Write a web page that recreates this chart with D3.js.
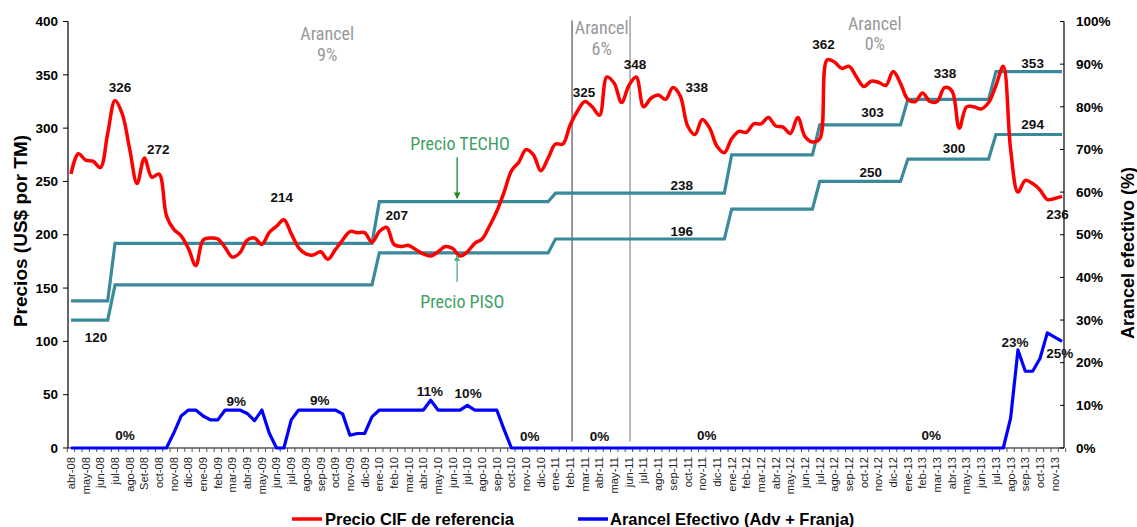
<!DOCTYPE html>
<html><head><meta charset="utf-8">
<script src="https://cdn.jsdelivr.net/npm/d3@7"></script>
<style>body{margin:0;background:#fff}svg{display:block}</style>
</head><body><svg id="c" width="1137" height="527"></svg>
<script>
const monthLabels = ["abr-08","may-08","jun-08","jul-08","ago-08","Set-08","oct-08","nov-08","dic-08",
"ene-09","feb-09","mar-09","abr-09","may-09","jun-09","jul-09","ago-09","sep-09","oct-09","nov-09","dic-09",
"ene-10","feb-10","mar-10","abr-10","may-10","jun-10","jul-10","ago-10","sep-10","oct-10","nov-10","dic-10",
"ene-11","feb-11","mar-11","abr-11","may-11","jun-11","jul-11","ago-11","sep-11","oct-11","nov-11","dic-11",
"ene-12","feb-12","mar-12","abr-12","may-12","jun-12","jul-12","ago-12","sep-12","oct-12","nov-12","dic-12",
"ene-13","feb-13","mar-13","abr-13","may-13","jun-13","jul-13","ago-13","sep-13","oct-13","nov-13"];

// semi-monthly values (2 per month)
const precioCIF = [257,276,270,269,263,295,326,313,280,248,272,254,257,218,205,199,187,171,195,197,
196,188,179,183,195,197,191,202,208,214,201,188,182,181,184,177,186,195,203,202,
202,193,203,207,191,189,190,186,182,180,184,189,187,180,184,192,196,208,222,240,
260,268,280,275,260,272,285,285,303,316,325,320,312,348,342,324,340,348,320,328,
331,327,338,330,302,294,308,300,283,277,290,297,296,304,304,310,302,301,295,310,
292,287,290,364,362,356,358,348,339,344,343,340,353,342,327,325,333,325,325,338,
335,300,320,320,318,324,340,358,280,240,251,248,242,233,234,236];

const arancelEfectivo = [0,0,0,0,0,0,0,0,0,0,0,0,0,0,3.5,7.5,8.9,8.9,7.5,6.6,
6.6,8.9,8.9,8.9,8.1,6.4,8.9,3.5,0,0,6.6,8.9,8.9,8.9,8.9,8.9,8.9,8.0,3.0,3.4,
3.4,7.3,8.9,8.9,8.9,8.9,8.9,8.9,8.9,11.2,8.9,8.9,8.9,8.9,10,8.9,8.9,8.9,8.9,4.3,
0,0,0,0,0,0,0,0,0,0,0,0,0,0,0,0,0,0,0,0,
0,0,0,0,0,0,0,0,0,0,0,0,0,0,0,0,0,0,0,0,
0,0,0,0,0,0,0,0,0,0,0,0,0,0,0,0,0,0,0,0,
0,0,0,0,0,0,0,0,7,23,18,18,21,27,26,25];

const stepStart = [0,6,42,66,90,102,114,126];
const precioPisoLevels = [120,153,183,196,224,250,271,294];
const precioTechoLevels = [138,192,231,239,275,303,327,353];

const leftTicks = [0,50,100,150,200,250,300,350,400];
const rightTicks = [0,10,20,30,40,50,60,70,80,90,100];

const cifLabels = [
 {t:"326",i:6.68,v:338.5},{t:"272",i:11.89,v:279.8},{t:"214",i:28.7,v:235.4},{t:"207",i:44.37,v:218.3},
 {t:"325",i:69.9,v:333.8},{t:"348",i:76.84,v:359.7},{t:"338",i:85.25,v:337.9},{t:"362",i:102.5,v:379.1},
 {t:"338",i:119.07,v:351},{t:"236",i:134.4,v:219.2}];
const bandLabels = [
 {t:"120",i:3.41,v:104.3},{t:"238",i:83.2,v:246.4},{t:"196",i:83.2,v:203.6},{t:"303",i:109.2,v:314.5},
 {t:"250",i:108.95,v:258.3},{t:"300",i:120.3,v:280.7},{t:"353",i:131.0,v:361},{t:"294",i:131.0,v:303.2}];
const arancelLabels = [
 {t:"0%",i:7.36,p:3.04},{t:"9%",i:22.5,p:10.84},{t:"9%",i:33.9,p:11.24},{t:"11%",i:48.9,p:13.19},
 {t:"10%",i:54.1,p:12.81},{t:"0%",i:62.5,p:2.65},{t:"0%",i:72.0,p:2.65},{t:"0%",i:86.6,p:3.04},
 {t:"0%",i:117.2,p:3.04},{t:"23%",i:128.6,p:24.9},{t:"25%",i:134.7,p:22.2}];
const tariffNotes = [
 {a:"Arancel",b:"9%",i:34.9,v:388.5},{a:"Arancel",b:"6%",i:72.3,v:394.1},{a:"Arancel",b:"0%",i:109.5,v:398.4}];
const separators = [{i:68.26,top:401},{i:76.16,top:405}];

// build step series from levels
function steps(levels){
  const out=[];
  for(let k=0;k<precioCIF.length;k++){
    let idx=0; stepStart.forEach((s,j)=>{ if(k>=s) idx=j; });
    out.push(levels[idx]);
  }
  return out;
}
const precioPiso = steps(precioPisoLevels);
const precioTecho = steps(precioTechoLevels);

const svg = d3.select("#c");
const L=68, R=1064, T=21.5, B=448;
const x = d3.scaleLinear().domain([0,135]).range([71,1062]);
const y = d3.scaleLinear().domain([0,400]).range([B,T]);
const y2 = d3.scaleLinear().domain([0,100]).range([B,T]);
const font = "'Liberation Sans', Arial, sans-serif";
const narrow = "'Liberation Sans Narrow','Arial Narrow','Roboto Condensed',sans-serif";

// axes lines
svg.append("line").attr("x1",L).attr("x2",L).attr("y1",T).attr("y2",B).attr("stroke","#000").attr("stroke-width",1.2);
svg.append("line").attr("x1",R).attr("x2",R).attr("y1",T).attr("y2",B).attr("stroke","#000").attr("stroke-width",1.2);
svg.append("line").attr("x1",L).attr("x2",R).attr("y1",B).attr("y2",B).attr("stroke","#000").attr("stroke-width",1.2);

// left ticks
leftTicks.forEach(v=>{
  svg.append("line").attr("x1",L-5).attr("x2",L).attr("y1",y(v)).attr("y2",y(v)).attr("stroke","#000");
  svg.append("text").attr("x",L-10).attr("y",y(v)).attr("dy","0.35em").attr("text-anchor","end")
   .attr("font-family",font).attr("font-weight","bold").attr("font-size",13.5).text(v);
});
rightTicks.forEach(v=>{
  svg.append("line").attr("x1",R-4).attr("x2",R).attr("y1",y2(v)).attr("y2",y2(v)).attr("stroke","#000");
  svg.append("text").attr("x",R+12).attr("y",y2(v)).attr("dy","0.35em").attr("text-anchor","start")
   .attr("font-family",font).attr("font-weight","bold").attr("font-size",13.5).text(v+"%");
});
// x ticks
for(let k=0;k<=precioCIF.length;k++){
  const xx = x(k-0.5);
  svg.append("line").attr("x1",xx).attr("x2",xx).attr("y1",B).attr("y2",B+4).attr("stroke","#555");
}
monthLabels.forEach((m,j)=>{
  svg.append("text").attr("transform",`translate(${x(j*2)},457) rotate(-90)`)
   .attr("dy","0.35em").attr("text-anchor","end").attr("font-family",font).attr("font-size",11.2)
   .attr("fill","#222").text(m);
});

// axis titles
svg.append("text").attr("transform","translate(27,231) rotate(-90)").attr("text-anchor","middle")
 .attr("font-family",font).attr("font-weight","bold").attr("font-size",19).text("Precios (US$ por TM)");
svg.append("text").attr("transform","translate(1134,253) rotate(-90)").attr("text-anchor","middle")
 .attr("font-family",font).attr("font-weight","bold").attr("font-size",18).text("Arancel efectivo (%)");

// separators
separators.forEach((s,j)=>{
  svg.append("line").attr("x1",x(s.i)).attr("x2",x(s.i)).attr("y1",y(s.top)).attr("y2",y(6))
   .attr("stroke",j===0?"#7f7f7f":"#a6a6a6").attr("stroke-width",1.6);
});

// tariff notes
tariffNotes.forEach(n=>{
  const g = svg.append("g").attr("font-family",narrow).attr("font-size",18).attr("fill","#989898").attr("text-anchor","middle");
  g.append("text").attr("x",x(n.i)).attr("y",y(n.v)).attr("dy","0.35em").text(n.a);
  g.append("text").attr("x",x(n.i)).attr("y",y(n.v)+20.5).attr("dy","0.35em").text(n.b);
});

// lines
const lineL = d3.line().x((d,i)=>x(i)).y(d=>y(d));
svg.append("path").datum(precioPiso).attr("d",lineL).attr("fill","none").attr("stroke","#3b8a9c").attr("stroke-width",3.2);
svg.append("path").datum(precioTecho).attr("d",lineL).attr("fill","none").attr("stroke","#3b8a9c").attr("stroke-width",3.2);
const lineB = d3.line().x((d,i)=>x(i)).y(d=>y2(d));
svg.append("path").datum(arancelEfectivo).attr("d",lineB).attr("fill","none").attr("stroke","#0000ff").attr("stroke-width",3.2).attr("stroke-linejoin","round");
const lineR = d3.line().x((d,i)=>x(i)).y(d=>y(d)).curve(d3.curveCatmullRom.alpha(0.5));
svg.append("path").datum(precioCIF).attr("d",lineR).attr("fill","none").attr("stroke","#ff0000").attr("stroke-width",3.5).attr("stroke-linejoin","round");

// labels
function lab(arr,scale,key){
  arr.forEach(d=>{
    svg.append("text").attr("x",x(d.i)).attr("y",scale(d[key])).attr("dy","0.35em").attr("text-anchor","middle")
     .attr("font-family",font).attr("font-weight","bold").attr("font-size",13.5).attr("fill","#111").text(d.t);
  });
}
lab(cifLabels,y,"v"); lab(bandLabels,y,"v"); lab(arancelLabels,y2,"p");

// Precio TECHO / PISO annotations
const defs = svg.append("defs");
[["ahDark","#1e8a1e"],["ahLight","#4fae7a"]].forEach(([id,c])=>{
  defs.append("marker").attr("id",id).attr("viewBox","0 0 10 10").attr("refX",9).attr("refY",5)
   .attr("markerWidth",5).attr("markerHeight",5).attr("orient","auto-start-reverse")
   .append("path").attr("d","M0,0 L10,5 L0,10 z").attr("fill",c);
});
svg.append("text").attr("x",x(53.0)).attr("y",y(285.4)).attr("dy","0.35em").attr("text-anchor","middle")
 .attr("font-family",narrow).attr("font-size",18).attr("fill","#3f9f66").text("Precio TECHO");
svg.append("line").attr("x1",x(52.6)).attr("x2",x(52.6)).attr("y1",y(272.6)).attr("y2",y(234.2))
 .attr("stroke","#1e8a1e").attr("stroke-width",1.3).attr("marker-end","url(#ahDark)");
svg.append("text").attr("x",x(53.3)).attr("y",y(137)).attr("dy","0.35em").attr("text-anchor","middle")
 .attr("font-family",narrow).attr("font-size",18).attr("fill","#3f9f66").text("Precio PISO");
svg.append("line").attr("x1",x(52.6)).attr("x2",x(52.6)).attr("y1",y(155.8)).attr("y2",y(180.5))
 .attr("stroke","#4fae7a").attr("stroke-width",1.3).attr("marker-end","url(#ahLight)");

// legend
const lg = svg.append("g").attr("font-family",font).attr("font-weight","bold").attr("font-size",16.5);
lg.append("line").attr("x1",292).attr("x2",322).attr("y1",519).attr("y2",519).attr("stroke","#ff0000").attr("stroke-width",3.5);
lg.append("text").attr("x",325).attr("y",525).text("Precio CIF de referencia");
lg.append("line").attr("x1",578).attr("x2",608).attr("y1",519).attr("y2",519).attr("stroke","#0000ff").attr("stroke-width",3.5);
lg.append("text").attr("x",610).attr("y",525).text("Arancel Efectivo (Adv + Franja)");
</script></body></html>
